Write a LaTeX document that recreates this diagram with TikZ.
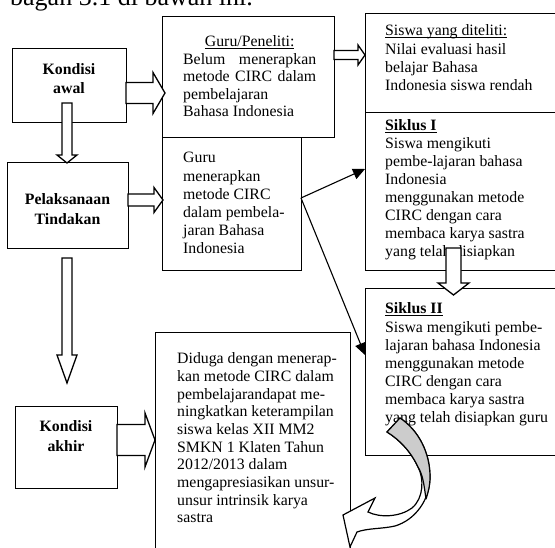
\documentclass[tikz,border=0pt]{standalone}
\usepackage{fontspec}
\setmainfont{Liberation Serif}
\newsavebox{\myulbox}
\newcommand{\myul}[1]{\leavevmode\sbox{\myulbox}{#1}\rlap{\rule[-2.2pt]{\wd\myulbox}{0.9pt}}\usebox{\myulbox}}
\usetikzlibrary{calc,arrows.meta}
\tikzset{
  box/.style={draw, line width=1.3pt, fill=white, inner sep=0pt, anchor=north west},
  txt/.style={anchor=base west, inner sep=0pt},
  ctxt/.style={anchor=base, inner sep=0pt},
  blockarr/.style={draw, line width=1.3pt, fill=white, line join=miter},
  thinarr/.style={line width=1.1pt, -{Triangle[length=12pt,width=11pt]}},
  curvearr/.style={draw, line width=1.2pt, fill=white, line join=miter},
  curveback/.style={draw, line width=1.2pt, fill=gray!40, line join=round}
}
% text block: #1 width, #2 baselineskip, #3 content
\newcommand{\tblock}[3]{\parbox[t]{#1}{\fontsize{15.8}{#2}\selectfont\raggedright #3}}
\newcommand{\cblock}[3]{\parbox[t]{#1}{\fontsize{15.8}{#2}\selectfont\centering\bfseries #3}}
% horizontal block arrow: start, tip, half shaft, half head, head length
\newcommand{\hblock}[5]{%
  \draw[blockarr] ($(#1 |- #2)+(0,#3)$) -- ($(#2)+(-#5,#3)$) -- ($(#2)+(-#5,#4)$) -- (#2)
   -- ($(#2)+(-#5,-#4)$) -- ($(#2)+(-#5,-#3)$) -- ($(#1 |- #2)+(0,-#3)$) -- cycle;}
% vertical (downward) block arrow
\newcommand{\vblock}[5]{%
  \draw[blockarr] ($(#2 |- #1)+(#3,0)$) -- ($(#2)+(#3,-#5)$) -- ($(#2)+(#4,-#5)$) -- (#2)
   -- ($(#2)+(-#4,-#5)$) -- ($(#2)+(-#3,-#5)$) -- ($(#2 |- #1)+(-#3,0)$) -- cycle;}
\begin{document}
\begin{tikzpicture}[x=1pt,y=-1pt]
\useasboundingbox (0,0) rectangle (555,548);
\clip (0,0) rectangle (555,548);

% partial line of running text above the diagram
\node[txt, font=\fontsize{26}{30}\selectfont] (head) at (10,6) {bagan 3.1 di bawah ini.};

% boxes
\node[box, minimum width=114pt, minimum height=74pt] (ka) at (12,48) {};
\node[box, minimum width=121pt, minimum height=86pt] (pt) at (7,162) {};
\node[box, minimum width=102pt, minimum height=82pt] (kk) at (15,406) {};
\node[box, minimum width=172pt, minimum height=121pt] (gp) at (162,16) {};
\node[box, minimum width=139pt, minimum height=133pt] (g2) at (162,137) {};
\node[box, minimum width=200pt, minimum height=99pt] (sw) at (365,13) {};
\node[box, minimum width=200pt, minimum height=158pt] (s1) at (365,112) {};
\node[box, minimum width=200pt, minimum height=167pt] (s2) at (365,288) {};
\node[box, minimum width=195pt, minimum height=240pt] (dg) at (155,332) {};

% texts
\node[ctxt] (ka-t) at (69,75) {\cblock{100pt}{19pt}{Kondisi\\awal}};
\node[ctxt] (pt-t) at (67.5,205) {\cblock{115pt}{20pt}{Pelaksanaan\\Tindakan}};
\node[ctxt] (kk-t) at (66,431.5) {\cblock{100pt}{20pt}{Kondisi\\akhir}};
\node[txt] (gp-t) at (183,47) {\tblock{140pt}{17.5pt}{%
  \makebox[133pt]{\myul{Guru/Peneliti:}}\\
  \makebox[133pt][s]{Belum menerapkan}\\
  \makebox[133pt][s]{metode CIRC dalam}\\
  pembelajaran\\
  Bahasa Indonesia}};
\node[txt] (g2-t) at (183,163) {\tblock{120pt}{18.2pt}{%
  Guru\\menerapkan\\metode CIRC\\dalam pembela-\\jaran Bahasa\\Indonesia}};
\node[txt] (sw-t) at (385,36) {\tblock{170pt}{18.2pt}{%
  \myul{Siswa yang diteliti:}\\Nilai evaluasi hasil\\belajar Bahasa\\Indonesia siswa rendah}};
\node[txt] (s1-t) at (385,131) {\tblock{170pt}{18pt}{%
  \myul{\textbf{Siklus I}}\\Siswa mengikuti\\pembe-lajaran bahasa\\Indonesia\\menggunakan metode\\CIRC dengan cara\\membaca karya sastra\\yang telah disiapkan}};
\node[txt] (s2-t) at (385,314) {\tblock{170pt}{18.1pt}{%
  \myul{\textbf{Siklus II}}\\Siswa mengikuti pembe-\\lajaran bahasa Indonesia\\menggunakan metode\\CIRC dengan cara\\membaca karya sastra\\yang telah disiapkan guru}};
\node[txt] (dg-t) at (177,364) {\tblock{175pt}{17.65pt}{%
  Diduga dengan menerap-\\kan metode CIRC dalam\\pembelajarandapat me-\\ningkatkan keterampilan\\siswa kelas XII MM2\\SMKN 1 Klaten Tahun\\2012/2013 dalam\\mengapresiasikan unsur-\\unsur intrinsik karya\\sastra}};

% tip / start coordinates of the block arrows
\coordinate (a1s) at (126,93);  \coordinate (a1t) at (165,93);
\coordinate (a2s) at (67,103);  \coordinate (a2t) at (67,163);
\coordinate (a3s) at (128,200); \coordinate (a3t) at (163,200);
\coordinate (a4s) at (334,55);  \coordinate (a4t) at (365,55);
\coordinate (a5s) at (67,258);  \coordinate (a5t) at (67,383);
\coordinate (a6s) at (117,440); \coordinate (a6t) at (155,440);
\coordinate (a7s) at (453.5,248); \coordinate (a7t) at (453.5,295);

\hblock{a1s}{a1t}{10.5}{20.5}{12}
\vblock{a2s}{a2t}{5}{10}{8}
\hblock{a3s}{a3t}{6}{12.5}{9}
\hblock{a4s}{a4t}{4.5}{10}{7}
\vblock{a5s}{a5t}{5}{10}{28}
\hblock{a6s}{a6t}{15.5}{27}{10}
\vblock{a7s}{a7t}{7.5}{15.5}{12}

% thin arrows
\coordinate (split) at (301,198);
\coordinate (s1in) at (365,169);
\coordinate (s2in) at (365,355);
\draw[thinarr] (split) -- (s1in);
\draw[thinarr] (split) -- (s2in);

% curved arrow: white front face with head
\draw[curvearr] (387,432) -- (400,418)
  .. controls (418,430) and (430,452) .. (430,477)
  .. controls (430,500) and (415,520) .. (395,526)
  .. controls (382,529) and (368,528) .. (357,532)
  -- (350,547) -- (343,515) -- (375,498) -- (368,512)
  .. controls (380,518) and (400,517) .. (412,508)
  .. controls (424,498) and (424,478) .. (418,467)
  .. controls (411,452) and (400,440) .. (387,432) -- cycle;
% grey back face of the curved arrow
\draw[curveback] (387,432) -- (400,418)
  .. controls (418,430) and (430,452) .. (430,477)
  .. controls (430,486) and (428,493) .. (426,499)
  .. controls (424,485) and (423,475) .. (418,467)
  .. controls (411,452) and (400,440) .. (387,432) -- cycle;
\end{tikzpicture}
\end{document}
